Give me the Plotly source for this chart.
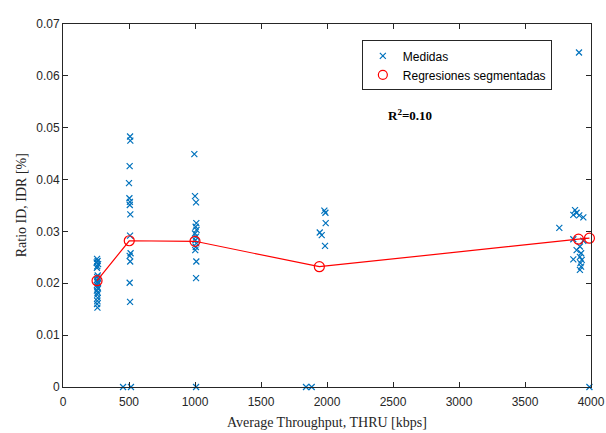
import plotly.graph_objects as go

# Medidas (kbps, ratio)
thru_250 = [258, 262, 255, 266, 260, 257, 263, 259, 268, 256, 261, 264, 258, 260, 265, 257, 262, 259, 263, 260, 258, 261]
ratio_250 = [0.0247, 0.0243, 0.0240, 0.0237, 0.0233, 0.0230, 0.0215, 0.0212, 0.0209, 0.0206, 0.0203,
             0.0200, 0.0197, 0.0193, 0.0190, 0.0186, 0.0182, 0.0178, 0.0172, 0.0166, 0.0160, 0.0153]

thru_500 = [508, 510, 505, 500, 503, 507, 506, 510, 508, 512, 505, 509, 505, 508, 455, 515]
ratio_500 = [0.0483, 0.0475, 0.0426, 0.0393, 0.0364, 0.0357, 0.0351, 0.0333, 0.0292, 0.0258,
             0.0253, 0.0242, 0.0201, 0.0164, 0.0, 0.0]

thru_1000 = [995, 1000, 1008, 1010, 1005, 1012, 1000, 1008, 1003, 1010, 1006, 1002, 1010, 1008, 1008]
ratio_1000 = [0.0449, 0.0368, 0.0356, 0.0316, 0.0309, 0.0303, 0.0296, 0.0290, 0.0283, 0.0277,
              0.0270, 0.0264, 0.0242, 0.0210, 0.0]

thru_2000 = [1980, 1988, 1990, 1945, 1960, 1985, 1841, 1884]
ratio_2000 = [0.0340, 0.0336, 0.0316, 0.0298, 0.0293, 0.0272, 0.0, 0.0]

thru_4000 = [3909, 3760, 3879, 3891, 3866, 3911, 3942, 3866, 3942, 3891, 3916, 3866,
             3925, 3916, 3930, 3920, 3925, 3916, 3988]
ratio_4000 = [0.0645, 0.0307, 0.0341, 0.0336, 0.0332, 0.0331, 0.0327, 0.0285, 0.0282, 0.0264,
              0.0271, 0.0246, 0.0258, 0.0251, 0.0245, 0.0239, 0.0232, 0.0226, 0.0]

medidas_x = thru_250 + thru_500 + thru_1000 + thru_2000 + thru_4000
medidas_y = ratio_250 + ratio_500 + ratio_1000 + ratio_2000 + ratio_4000

# Regresiones segmentadas
reg_x = [258, 502, 1000, 1942, 3905, 3988]
reg_y = [0.0205, 0.0282, 0.0281, 0.0232, 0.0285, 0.0287]

azul = '#0072BD'
rojo = '#FF0000'
fuente_serif = 'Liberation Serif, Times New Roman'

fig = go.Figure()

fig.add_trace(go.Scatter(
    x=medidas_x, y=medidas_y, mode='markers', name='Medidas', cliponaxis=False,
    marker=dict(symbol='x-thin', size=6, color=azul, line=dict(width=1.2, color=azul))
))

fig.add_trace(go.Scatter(
    x=reg_x, y=reg_y, mode='lines+markers', showlegend=False, cliponaxis=False,
    line=dict(color=rojo, width=1.2),
    marker=dict(symbol='circle-open', size=10, color=rojo, line=dict(width=1.2, color=rojo))
))

# entrada de leyenda solo con el marcador
fig.add_trace(go.Scatter(
    x=[None], y=[None], mode='markers', name='Regresiones segmentadas',
    marker=dict(symbol='circle-open', size=9, color=rojo, line=dict(width=1.2, color=rojo))
))

eje = dict(
    showline=True, linecolor='#262626', linewidth=1, mirror='ticks',
    ticks='inside', ticklen=5, tickcolor='#262626',
    showgrid=False, zeroline=False, automargin=False,
    tickfont=dict(family='Liberation Sans, Arial', size=12, color='#262626'),
)

fig.update_layout(
    width=606, height=433,
    margin=dict(l=63, r=15, t=24, b=46),
    plot_bgcolor='white', paper_bgcolor='white',
    xaxis=dict(eje, range=[0, 4000], tickvals=[0, 500, 1000, 1500, 2000, 2500, 3000, 3500, 4000],
               ticklabelstandoff=4),
    yaxis=dict(eje, range=[0, 0.07], tickvals=[0, 0.01, 0.02, 0.03, 0.04, 0.05, 0.06, 0.07],
               ticktext=['0', '0.01', '0.02', '0.03', '0.04', '0.05', '0.06', '0.07']),
    legend=dict(x=0.566, y=0.955, xanchor='left', yanchor='top',
                bgcolor='white', bordercolor='#262626', borderwidth=1,
                font=dict(family='Liberation Sans, Arial', size=12, color='black'),
                itemsizing='trace', tracegroupgap=0),
    showlegend=True,
    annotations=[
        dict(text='<b>R<sup>2</sup>=0.10</b>', x=0.657, y=0.749, xref='paper', yref='paper',
             xanchor='center', yanchor='middle',
             showarrow=False, font=dict(family=fuente_serif, size=13, color='black')),
        # titulos de los ejes
        dict(text='Average Throughput, THRU [kbps]', x=0.5, y=-0.099, xref='paper', yref='paper',
             xanchor='center', yanchor='middle',
             showarrow=False, font=dict(family=fuente_serif, size=14, color='#262626')),
        dict(text='Ratio ID, IDR [%]', x=-0.078, y=0.5, xref='paper', yref='paper', textangle=-90,
             xanchor='center', yanchor='middle',
             showarrow=False, font=dict(family=fuente_serif, size=14, color='#262626')),
    ],
)

# quitar el margen por defecto del body
fig.write_html("out.html", config={'displayModeBar': False},
               post_script="document.body.style.margin='0';")
